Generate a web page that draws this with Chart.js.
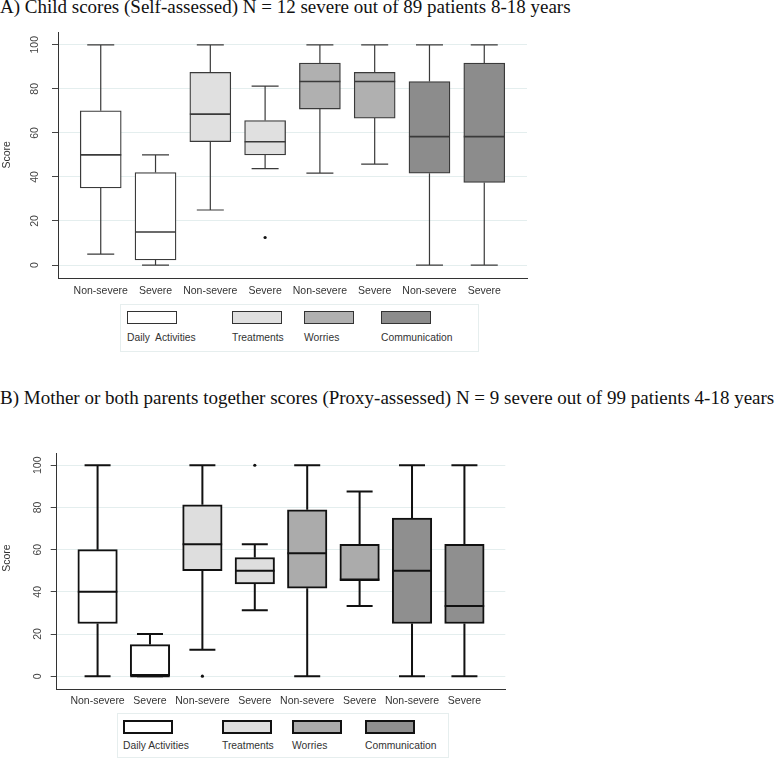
<!DOCTYPE html>
<html>
<head>
<meta charset="utf-8">
<script src="https://cdn.jsdelivr.net/npm/chart.js@4.4.1/dist/chart.umd.min.js"></script>
<style>
  body { margin: 0; background: #fff; width: 778px; height: 758px; position: relative; overflow: hidden; }
  .title { position: absolute; left: 0; font-family: "Liberation Serif", "Times New Roman", serif; font-size: 19px; white-space: nowrap; color: #111; }
  .wrap { position: absolute; left: 0; }
  .legend { position: absolute; border: 1px solid #e6eeee; font-family: "Liberation Sans", Arial, sans-serif; font-size: 10.3px; color: #333; }
  .legend .sw { position: absolute; box-sizing: border-box; }
  .legend .lb { position: absolute; white-space: pre; }
</style>
</head>
<body>
<div class="title" style="top:-4px">A) Child scores (Self-assessed) N = 12 severe out of 89 patients 8-18 years</div>
<div class="wrap" style="top:0; width:540px; height:300px"><canvas id="chartA"></canvas></div>
<div class="legend" id="legA" style="left:120px; top:304px; width:357px; height:46px"></div>

<div class="title" style="top:387px">B) Mother or both parents together scores (Proxy-assessed) N = 9 severe out of 99 patients 4-18 years</div>
<div class="wrap" style="top:420px; width:520px; height:290px"><canvas id="chartB"></canvas></div>
<div class="legend" id="legB" style="left:117px; top:713px; width:330px; height:43px"></div>

<script>
var groups  = ["Non-severe", "Severe", "Non-severe", "Severe", "Non-severe", "Severe", "Non-severe", "Severe"];
var domains = ["Daily Activities", "Treatments", "Worries", "Communication"];
var yTicks  = [0, 20, 40, 60, 80, 100];

// A) child self-assessed
var aMin = [5, 0, 25, 43.75, 41.7, 45.8, 0, 0];
var aQ1  = [35, 2.3, 56, 50, 70.8, 66.7, 41.7, 37.5];
var aMed = [50, 15, 68.5, 56, 83.3, 83.3, 58.3, 58.3];
var aQ3  = [70, 42, 87.5, 65.6, 91.7, 87.5, 83.3, 91.7];
var aMax = [100, 50, 100, 81.25, 100, 100, 100, 100];
var aOut = [{x: 4, y: 12.5}];

// B) parents proxy-assessed
var bMin = [0, 0, 12.5, 31.25, 0, 33.3, 0, 0];
var bQ1  = [25, 0, 50, 43.75, 41.7, 45.3, 25, 25];
var bMed = [40, 0, 62.5, 50, 58.3, 45.8, 50, 33.3];
var bQ3  = [60, 15, 81.25, 56.25, 78.9, 62.5, 75, 62.5];
var bMax = [100, 20, 100, 62.5, 100, 87.5, 100, 100];
var bOut = [{x: 3, y: 0}, {x: 4, y: 100}];

var fillsA = ["#ffffff", "#e0e0e0", "#b0b0b0", "#8c8c8c"];
var fillsB = ["#ffffff", "#dedede", "#ababab", "#8f8f8f"];

// whiskers, caps and medians drawn on the library's scales
var boxPlugin = {
  id: "boxParts",
  afterDatasetsDraw: function(chart) {
    var o = chart.options.plugins.boxParts;
    var ys = chart.scales.y;
    var bars = chart.getDatasetMeta(0).data;
    var ctx = chart.ctx;
    ctx.save();
    ctx.strokeStyle = o.color;
    ctx.lineCap = "butt";
    bars.forEach(function(bar, i) {
      var x = bar.x;
      var half = bar.width / 2;
      var pMin = ys.getPixelForValue(o.min[i]);
      var pQ1 = ys.getPixelForValue(o.q1[i]);
      var pQ3 = ys.getPixelForValue(o.q3[i]);
      var pMax = ys.getPixelForValue(o.max[i]);
      var pMed = ys.getPixelForValue(o.med[i]);
      ctx.lineWidth = o.whiskerWidth;
      ctx.beginPath();
      ctx.moveTo(x, pQ3); ctx.lineTo(x, pMax);
      ctx.moveTo(x, pQ1); ctx.lineTo(x, pMin);
      ctx.moveTo(x - o.cap / 2, pMax); ctx.lineTo(x + o.cap / 2, pMax);
      ctx.moveTo(x - o.cap / 2, pMin); ctx.lineTo(x + o.cap / 2, pMin);
      ctx.stroke();
      ctx.lineWidth = o.medianWidth;
      ctx.beginPath();
      ctx.moveTo(x - half, pMed); ctx.lineTo(x + half, pMed);
      ctx.stroke();
    });
    // rotated y tick labels and axis title
    ctx.fillStyle = "#444";
    ctx.font = o.tickFont;
    ctx.textAlign = "center";
    ctx.textBaseline = "middle";
    ys.ticks.forEach(function(t) {
      var py = ys.getPixelForValue(t.value);
      ctx.save();
      ctx.translate(o.tickX, py);
      ctx.rotate(-Math.PI / 2);
      ctx.fillText(String(t.value), 0, 0);
      ctx.restore();
    });
    ctx.fillStyle = "#333";
    ctx.save();
    ctx.translate(o.titleX, ys.getPixelForValue(o.titleAt));
    ctx.rotate(-Math.PI / 2);
    ctx.fillText("Score", 0, 0);
    ctx.restore();
    ctx.restore();
  }
};

function makeChart(id, s) {
  var boxData = groups.map(function(g, i) { return {x: i + 1, y: [s.q1[i], s.q3[i]]}; });
  var colors = groups.map(function(g, i) { return s.fills[Math.floor(i / 2)]; });
  return new Chart(document.getElementById(id), {
    type: "bar",
    data: {
      datasets: [{
        type: "bar",
        data: boxData,
        backgroundColor: colors,
        borderColor: s.line,
        borderWidth: s.lw,
        borderSkipped: false,
        barThickness: s.barW
      }, {
        type: "scatter",
        data: s.out,
        pointRadius: 1.6,
        pointBackgroundColor: "#111",
        pointBorderWidth: 0
      }]
    },
    options: {
      responsive: true,
      maintainAspectRatio: false,
      animation: false,
      layout: {padding: {top: s.padTop, right: s.padRight, left: 0, bottom: 0}},
      plugins: {
        legend: {display: false},
        tooltip: {enabled: false},
        boxParts: {
          min: s.min, q1: s.q1, med: s.med, q3: s.q3, max: s.max,
          color: s.line, whiskerWidth: s.wlw, medianWidth: s.mlw, cap: s.cap,
          tickX: s.tickX, titleX: 7, titleAt: s.titleAt,
          tickFont: "10.5px 'Liberation Sans', Arial, sans-serif"
        }
      },
      scales: {
        x: {
          type: "linear",
          offset: false,
          min: 0.22, max: 8.78,
          afterBuildTicks: function(sc) { sc.ticks = groups.map(function(g, i) { return {value: i + 1}; }); },
          afterFit: function(sc) { sc.height = s.xH; },
          grid: {display: false, drawTicks: false, offset: false},
          border: {display: true, color: "#333", width: 1},
          ticks: {
            padding: 6, color: "#333", autoSkip: false, maxRotation: 0,
            font: {family: "'Liberation Sans', Arial, sans-serif", size: 10.5},
            callback: function(v) { return groups[v - 1]; }
          }
        },
        y: {
          min: -6.2, max: 105.8,
          afterBuildTicks: function(sc) { sc.ticks = yTicks.map(function(v) { return {value: v}; }); },
          afterFit: function(sc) { sc.width = s.yW; },
          grid: {color: "#e4eeee", tickColor: "#444", tickLength: 6, lineWidth: 1},
          border: {display: true, color: "#333", width: 1},
          ticks: {display: false}
        }
      }
    },
    plugins: [boxPlugin]
  });
}

makeChart("chartA", {
  min: aMin, q1: aQ1, med: aMed, q3: aQ3, max: aMax, out: aOut, fills: fillsA,
  line: "#3a3a3a", lw: 1.3, wlw: 1.2, mlw: 1.6, cap: 27, barW: 41,
  padTop: 32, padRight: 13, xH: 21.3, yW: 58, tickX: 35, titleAt: 50
});
makeChart("chartB", {
  min: bMin, q1: bQ1, med: bMed, q3: bQ3, max: bMax, out: bOut, fills: fillsB,
  line: "#111111", lw: 2, wlw: 2, mlw: 2, cap: 26, barW: 39.5,
  padTop: 33, padRight: 14.7, xH: 20.7, yW: 56.7, tickX: 38, titleAt: 56
});

function makeLegend(id, fills, sw, lbls, swTop, swH, lbTop, lineCss) {
  var el = document.getElementById(id);
  domains.forEach(function(d, i) {
    var s = document.createElement("div");
    s.className = "sw";
    s.style.cssText = "left:" + sw[i] + "px; top:" + swTop + "px; width:50px; height:" + swH + "px; background:" + fills[i] + "; border:" + lineCss;
    el.appendChild(s);
    var t = document.createElement("div");
    t.className = "lb";
    t.style.cssText = "left:" + sw[i] + "px; top:" + lbTop + "px";
    t.textContent = lbls[i];
    el.appendChild(t);
  });
}
makeLegend("legA", fillsA, [6, 111, 183, 260], ["Daily  Activities", "Treatments", "Worries", "Communication"], 6, 13, 27, "1px solid #333");
makeLegend("legB", fillsB, [5, 104, 174, 247], domains, 6, 14, 26, "2px solid #111");
</script>
</body>
</html>
